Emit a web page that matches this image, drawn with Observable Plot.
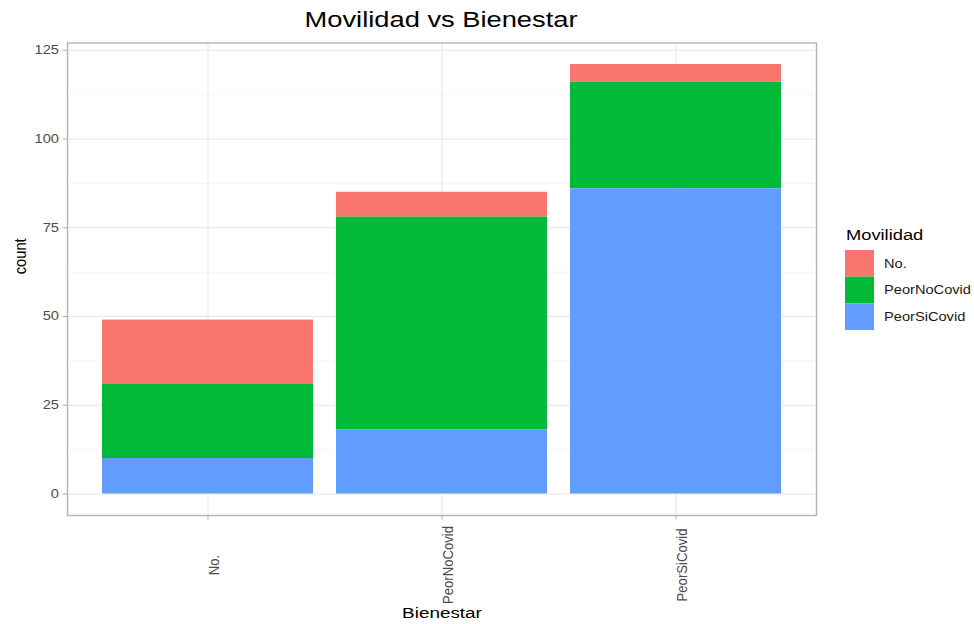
<!DOCTYPE html>
<html><head><meta charset="utf-8">
<script src="https://cdn.jsdelivr.net/npm/d3@7"></script>
<script src="https://cdn.jsdelivr.net/npm/@observablehq/plot@0.6"></script>
<style>
body{margin:0;background:#fff;font-family:"Liberation Sans",Arial,sans-serif;}
#fig{position:relative;width:974px;height:624px;overflow:hidden;background:#fff}
#title{position:absolute;left:0;width:882px;top:9px;text-align:center;font-size:22px;line-height:22px;color:#000}
#title span{display:inline-block;transform:scaleX(1.24)}
#plot{position:absolute;left:0;top:40px}
#legend{position:absolute;left:820px;top:210px;font-family:"Liberation Sans",Arial,sans-serif}
</style></head><body>
<div id="fig">
<div id="title"><span></span></div>
<div id="plot"></div>
<svg id="legend" width="154" height="130"></svg>
</div>
<script>
const bienestar = ["No.", "PeorNoCovid", "PeorSiCovid"];
const movilidad = ["No.", "PeorNoCovid", "PeorSiCovid"];
const countNo = [18, 7, 5];
const countPeorNoCovid = [21, 60, 30];
const countPeorSiCovid = [10, 18, 86];
const colors = ["#F8766D", "#00BA38", "#619CFF"];
const yTicks = [0, 25, 50, 75, 100, 125];
const yMinor = [12.5, 37.5, 62.5, 87.5, 112.5];
const titleText = "Movilidad vs Bienestar";
const xLabel = "Bienestar";
const yLabel = "count";
const legendTitle = "Movilidad";
const stackOrder = ["PeorSiCovid", "PeorNoCovid", "No."];

const series = [countNo, countPeorNoCovid, countPeorSiCovid];
const data = [];
movilidad.forEach((m, j) => bienestar.forEach((b, i) => data.push({bienestar: b, movilidad: m, count: series[j][i]})));
const totals = bienestar.map((b, i) => d3.sum(series, s => s[i]));
const yMax = d3.max(totals);
const pad = yMax * 0.05;

document.querySelector("#title span").textContent = titleText;

const chart = Plot.plot({
  width: 830, height: 584,
  marginLeft: 67, marginRight: 14, marginTop: 2.5, marginBottom: 109,
  style: {fontFamily: "Liberation Sans, Arial, sans-serif", background: "#fff"},
  x: {type: "band", domain: bienestar, paddingInner: 0.1, paddingOuter: 0.15, label: null},
  y: {domain: [-pad, yMax + pad], label: null},
  color: {domain: movilidad, range: colors},
  marks: [
    Plot.gridY(yMinor, {stroke: "#ececec", strokeOpacity: 1, strokeWidth: 0.6}),
    Plot.gridY(yTicks, {stroke: "#e6e6e6", strokeOpacity: 1, strokeWidth: 1}),
    Plot.gridX(bienestar, {stroke: "#e6e6e6", strokeOpacity: 1, strokeWidth: 1}),
    Plot.barY(data, {x: "bienestar", y: "count", fill: "movilidad", order: stackOrder}),
    Plot.frame({stroke: "#b3b3b3", strokeWidth: 1.4}),
    Plot.axisY(yTicks, {tickSize: 4.5, tickPadding: 4, color: "#4d4d4d", stroke: "#b3b3b3", fontSize: 12, label: null}),
    Plot.axisX(bienestar, {tickSize: 4.5, tickFormat: () => "", stroke: "#b3b3b3", label: null}),
    Plot.axisX(bienestar, {tickSize: 0, tickRotate: -90, textAnchor: "middle", lineAnchor: "middle", tickPadding: 49.5, dx: 6, color: "#4d4d4d", fontSize: 12.5, label: null}),
    Plot.text([yLabel], {text: d => d, frameAnchor: "left", dx: -47, dy: -5, rotate: -90, fontSize: 14, fill: "#000"}),
    Plot.text([xLabel], {text: d => d, frameAnchor: "bottom", dy: 98, fontSize: 15.5, fill: "#000", lineAnchor: "middle"})
  ]
});
document.getElementById("plot").appendChild(chart);

function stretch(el) {
  const t = el.getAttribute("transform") || "";
  const rot = /rotate\(/.test(t);
  let base = t;
  if (!t) {
    const x = +el.getAttribute("x") || 0, y = +el.getAttribute("y") || 0;
    el.removeAttribute("x"); el.removeAttribute("y");
    base = `translate(${x},${y})`;
  }
  el.setAttribute("transform", base + (rot ? " scale(1.05,1.22)" : " scale(1.22,1)"));
}
d3.select(chart).selectAll("text").each(function() { stretch(this); });

const lg = d3.select("#legend");
lg.append("text").attr("transform", "translate(26,30) scale(1.22,1)").attr("font-size", 15).attr("fill", "#000").text(legendTitle);
const kh = 26.67;
movilidad.forEach((m, i) => {
  lg.append("rect").attr("x", 25).attr("y", 40 + i * kh).attr("width", 29).attr("height", kh).attr("fill", colors[i]);
  lg.append("text").attr("transform", `translate(64,${40 + i * kh + kh / 2}) scale(1.22,1)`).attr("dy", "0.35em")
    .attr("font-size", 12).attr("fill", "#1a1a1a").text(m);
});
</script>
</body></html>
